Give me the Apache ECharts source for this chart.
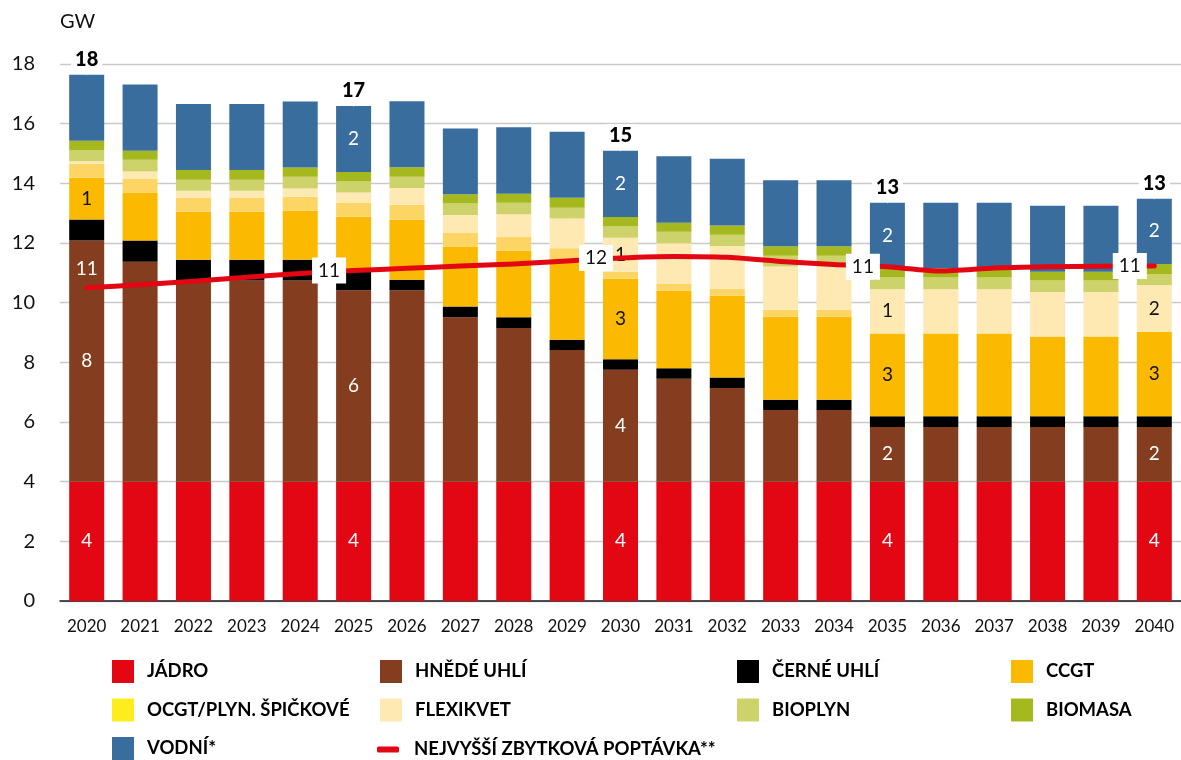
<!DOCTYPE html>
<html>
<head>
<meta charset="utf-8">
<script src="https://cdn.jsdelivr.net/npm/echarts@6/dist/echarts.min.js"></script>
<style>
  html, body { margin: 0; padding: 0; background: #ffffff; }
  #chart { width: 1181px; height: 760px; }
</style>
</head>
<body>
<div id="chart"></div>
<script>
// Installed capacity by source (GW), 2020–2040
const years = ['2020','2021','2022','2023','2024','2025','2026','2027','2028','2029','2030',
               '2031','2032','2033','2034','2035','2036','2037','2038','2039','2040'];

const jadro   = [4,4,4,4,4,4,4,4,4,4,4,4,4,4,4,4,4,4,4,4,4];
const hnede   = [8.08,7.37,6.74,6.74,6.74,6.42,6.42,5.51,5.15,4.41,3.75,3.45,3.14,2.40,2.40,1.83,1.83,1.83,1.83,1.83,1.83];
const cerne   = [0.71,0.71,0.70,0.70,0.70,0.71,0.35,0.36,0.36,0.35,0.35,0.35,0.35,0.35,0.35,0.36,0.36,0.36,0.36,0.36,0.36];
const ccgt    = [1.40,1.61,1.61,1.61,1.64,1.75,2.01,2.01,2.23,2.59,2.70,2.60,2.74,2.78,2.78,2.78,2.78,2.78,2.68,2.68,2.83];
const ocgt    = [0.47,0.47,0.47,0.47,0.47,0.47,0.50,0.47,0.48,0.47,0.24,0.24,0.24,0.23,0.23,0,0,0,0,0,0];
const flexi   = [0.08,0.24,0.23,0.23,0.28,0.34,0.56,0.59,0.74,1.00,1.14,1.35,1.43,1.45,1.45,1.48,1.48,1.48,1.49,1.49,1.57];
const bioplyn = [0.38,0.39,0.37,0.37,0.39,0.37,0.38,0.38,0.39,0.36,0.37,0.39,0.38,0.36,0.36,0.39,0.39,0.39,0.38,0.38,0.37];
const biomasa = [0.31,0.30,0.33,0.33,0.31,0.32,0.32,0.31,0.30,0.34,0.32,0.30,0.31,0.32,0.32,0.31,0.31,0.31,0.30,0.30,0.34];
const vodni   = [2.21,2.22,2.21,2.21,2.21,2.21,2.21,2.21,2.23,2.21,2.22,2.23,2.23,2.21,2.21,2.20,2.20,2.20,2.21,2.21,2.18];

// Peak residual demand (GW)
const poptavka = [10.5,10.6,10.72,10.85,10.98,11.08,11.15,11.23,11.3,11.4,11.5,11.55,11.52,11.38,11.28,11.2,11.06,11.16,11.2,11.22,11.23];

const yTicks = [0,2,4,6,8,10,12,14,16,18];

// Indices of years that carry value labels
const milestones = [0,5,10,15,20];
const ccgtLabelled  = [0,10,15,20];
const flexLabelled  = [10,15,20];
const vodniLabelled = [5,10,15,20];

const FONT = 'Lato, "Noto Sans", sans-serif';

const totals = years.map((_, i) =>
  jadro[i] + hnede[i] + cerne[i] + ccgt[i] + ocgt[i] + flexi[i] + bioplyn[i] + biomasa[i] + vodni[i]);

function barSeries(name, values, color, labelled, labelColor) {
  return {
    name: name,
    type: 'bar',
    stack: 'kapacita',
    barWidth: 35,
    itemStyle: { color: color },
    label: {
      show: false,
      position: 'inside',
      color: labelColor,
      fontFamily: FONT,
      fontSize: 19,
      formatter: p => String(Math.round(p.value))
    },
    emphasis: { disabled: true },
    data: values.map((v, i) => ({ value: v, label: { show: labelled.indexOf(i) >= 0 } }))
  };
}

const chart = echarts.init(document.getElementById('chart'), null, { renderer: 'canvas' });

const legendText = { fontFamily: FONT, fontSize: 18.5, fontWeight: 'bold', color: '#000000', padding: [0, 0, 0, 8] };
function legendColumn(left, items) {
  return {
    orient: 'vertical', left: left, top: 660, padding: 0,
    itemWidth: 22, itemHeight: 23, itemGap: 15.5,
    icon: 'rect', selectedMode: false,
    textStyle: legendText,
    data: items
  };
}

const option = {
  animation: false,
  backgroundColor: '#ffffff',
  grid: { left: 60, right: 0, top: 64, bottom: 159, containLabel: false },
  legend: [
    legendColumn(112, ['JÁDRO', { name: 'OCGT/PLYN. ŠPIČKOVÉ', itemStyle: { color: '#FFEC1C' } }, 'VODNÍ*']),
    legendColumn(380, ['HNĚDÉ UHLÍ', 'FLEXIKVET']),
    legendColumn(737, ['ČERNÉ UHLÍ', 'BIOPLYN']),
    legendColumn(1011, ['CCGT', 'BIOMASA']),
    {
      orient: 'vertical', left: 377, top: 740, padding: 0,
      itemWidth: 22, itemHeight: 6, selectedMode: false,
      textStyle: Object.assign({}, legendText, { padding: [0, 0, 0, 10] }),
      data: [{ name: 'NEJVYŠŠÍ ZBYTKOVÁ POPTÁVKA**', icon: 'roundRect' }]
    }
  ],
  xAxis: {
    type: 'category',
    data: years,
    axisLine: { show: true, lineStyle: { color: '#1a1a1a', width: 1.5 } },
    axisTick: { show: false },
    axisLabel: { color: '#111111', fontFamily: FONT, fontSize: 17, margin: 17, interval: 0, hideOverlap: false },
    splitLine: { show: false }
  },
  yAxis: {
    type: 'value',
    min: yTicks[0],
    max: yTicks[yTicks.length - 1],
    interval: yTicks[1] - yTicks[0],
    name: 'GW',
    nameLocation: 'end',
    nameGap: 42,
    nameTextStyle: { color: '#111111', fontFamily: FONT, fontSize: 20, align: 'left', verticalAlign: 'middle' },
    axisLine: { show: false },
    axisTick: { show: false },
    axisLabel: { color: '#111111', fontFamily: FONT, fontSize: 20, margin: 25 },
    splitLine: { show: true, lineStyle: { color: '#c9c9c9', width: 1.3 } }
  },
  series: [
    barSeries('JÁDRO', jadro, '#E30613', milestones, '#ffffff'),
    barSeries('HNĚDÉ UHLÍ', hnede, '#843D1E', milestones, '#ffffff'),
    barSeries('ČERNÉ UHLÍ', cerne, '#000000', [], '#ffffff'),
    barSeries('CCGT', ccgt, '#FBB900', ccgtLabelled, '#111111'),
    barSeries('OCGT/PLYN. ŠPIČKOVÉ', ocgt, '#FDD565', [], '#111111'),
    barSeries('FLEXIKVET', flexi, '#FEE9B3', flexLabelled, '#111111'),
    barSeries('BIOPLYN', bioplyn, '#CDD26B', [], '#111111'),
    barSeries('BIOMASA', biomasa, '#A5B81D', [], '#111111'),
    barSeries('VODNÍ*', vodni, '#386D9E', vodniLabelled, '#ffffff'),
    {
      name: 'NEJVYŠŠÍ ZBYTKOVÁ POPTÁVKA**',
      type: 'line',
      z: 5,
      smooth: 0.2,
      symbol: 'circle',
      symbolSize: 1,
      itemStyle: { color: '#E30613' },
      lineStyle: { color: '#E30613', width: 5, cap: 'round', join: 'round' },
      emphasis: { disabled: true },
      label: {
        show: false,
        position: 'left',
        distance: 7,
        color: '#111111',
        backgroundColor: '#ffffff',
        padding: [4, 6, 3, 6],
        fontFamily: FONT,
        fontSize: 19,
        formatter: p => String(Math.round(p.value))
      },
      data: poptavka.map((v, i) => {
        if (i === 0) {
          return { value: v, label: { show: true, position: 'top', distance: 6, color: '#ffffff', backgroundColor: 'transparent' } };
        }
        return { value: v, label: { show: milestones.indexOf(i) >= 0 } };
      })
    },
    {
      name: 'celkem',
      type: 'scatter',
      z: 6,
      symbolSize: 1,
      itemStyle: { color: '#ffffff', opacity: 1 },
      silent: true,
      emphasis: { disabled: true },
      label: {
        show: true,
        position: 'top',
        distance: 5,
        color: '#000000',
        backgroundColor: '#ffffff',
        padding: [1, 4, 0, 4],
        fontFamily: FONT,
        fontSize: 20,
        fontWeight: 900,
        formatter: p => String(Math.round(p.value))
      },
      data: totals.map((t, i) => milestones.indexOf(i) >= 0 ? t : '-')
    }
  ]
};

chart.setOption(option);
</script>
</body>
</html>
